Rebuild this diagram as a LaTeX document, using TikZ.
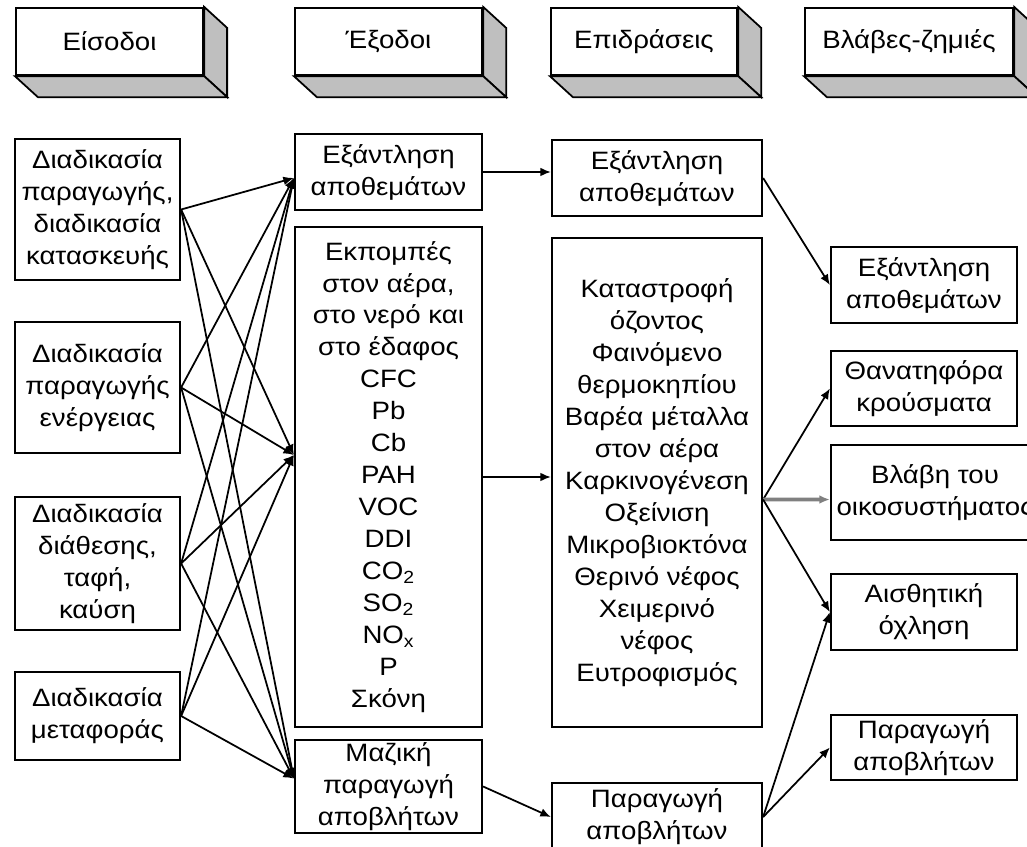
\documentclass[tikz,border=0pt]{standalone}
\usepackage{fontspec}
\setmainfont{Liberation Sans}[FakeStretch=1.1]
\usetikzlibrary{arrows.meta, positioning}

\begin{document}
\begin{tikzpicture}[x=0.02cm, y=-0.02cm, >={Latex[length=6pt,width=5pt]},
    box/.style={rectangle, draw, line width=1.3pt, fill=white, align=center, inner sep=0pt,
        font=\fontsize{14.3}{18.2}\selectfont},
    head/.style={box, minimum height=1.34cm},
    link/.style={->, line width=1pt}]
    \useasboundingbox (0,0) rectangle (1027,847);

    % column headers
    \node[head, minimum width=3.74cm] (h1) at (109.5,41.5) {Είσοδοι};
    \node[head, minimum width=3.74cm] (h2) at (388.5,41.5) {Έξοδοι};
    \node[head, minimum width=3.72cm] (h3) at (644,41.5) {Επιδράσεις};
    \node[head, minimum width=4.16cm] (h4) at (909,41.5) {Βλάβες-ζημιές};
    \foreach \h in {h1,h2,h3,h4} {
        \draw[fill=gray!50, line width=1pt] (\h.north east) -- ([shift={(23,21)}]\h.north east)
            -- ([shift={(23,21)}]\h.south east) -- (\h.south east) -- cycle;
        \draw[fill=gray!50, line width=1pt] (\h.south west) -- (\h.south east)
            -- ([shift={(23,21)}]\h.south east) -- ([shift={(23,21)}]\h.south west) -- cycle;
    }

    % inputs
    \node[box, minimum width=3.3cm, minimum height=2.82cm] (in1) at (97.5,209.5) {Διαδικασία\\παραγωγής,\\διαδικασία\\κατασκευής};
    \node[box, minimum width=3.3cm, minimum height=2.62cm] (in2) at (97.5,387.5) {Διαδικασία\\παραγωγής\\ενέργειας};
    \node[box, minimum width=3.3cm, minimum height=2.66cm] (in3) at (97.5,563.5) {Διαδικασία\\διάθεσης,\\ταφή,\\καύση};
    \node[box, minimum width=3.3cm, minimum height=1.76cm] (in4) at (97.5,716) {Διαδικασία\\μεταφοράς};

    % outputs
    \node[box, minimum width=3.74cm, minimum height=1.52cm] (out1) at (388.5,172) {Εξάντληση\\αποθεμάτων};
    \node[box, minimum width=3.74cm, minimum height=10cm] (out2) at (388.5,477) {Εκπομπές\\στον αέρα,\\στο νερό και\\στο έδαφος\\CFC\\Pb\\Cb\\PAH\\VOC\\DDI\\CO\textsubscript{2}\\SO\textsubscript{2}\\NO\textsubscript{x}\\P\\Σκόνη};
    \node[box, minimum width=3.74cm, minimum height=1.86cm] (out3) at (388.5,786.5) {Μαζική\\παραγωγή\\αποβλήτων};

    % effects
    \node[box, minimum width=4.2cm, minimum height=1.52cm] (eff1) at (657,178) {Εξάντληση\\αποθεμάτων};
    \node[box, minimum width=4.2cm, minimum height=9.78cm] (eff2) at (657,482.5) {Καταστροφή\\όζοντος\\Φαινόμενο\\θερμοκηπίου\\Βαρέα μέταλλα\\στον αέρα\\Καρκινογένεση\\Οξείνιση\\Μικροβιοκτόνα\\Θερινό νέφος\\Χειμερινό\\νέφος\\Ευτροφισμός};
    \node[box, minimum width=4.2cm, minimum height=1.36cm] (eff3) at (657,817) {Παραγωγή\\αποβλήτων};

    % damages
    \node[box, minimum width=3.72cm, minimum height=1.52cm] (dmg1) at (924,285) {Εξάντληση\\αποθεμάτων};
    \node[box, minimum width=3.72cm, minimum height=1.5cm] (dmg2) at (924,388.5) {Θανατηφόρα\\κρούσματα};
    \node[box, minimum width=4.16cm, minimum height=1.9cm] (dmg3) at (935,492.5) {Βλάβη του\\οικοσυστήματος};
    \node[box, minimum width=3.72cm, minimum height=1.52cm] (dmg4) at (924,612) {Αισθητική\\όχληση};
    \node[box, minimum width=3.72cm, minimum height=1.3cm] (dmg5) at (924,747.5) {Παραγωγή\\αποβλήτων};

    % every input feeds every output
    \foreach \s in {in1,in2,in3,in4} {
        \draw[link] (\s.east) -- ([yshift=-3.4pt]out1.west);
        \draw[link] (\s.east) -- ([yshift=12.5pt]out2.west);
        \draw[link] (\s.east) -- ([yshift=4.5pt]out3.west);
    }

    \draw[link] (out1.east) -- (out1.east -| eff1.west);
    \draw[link] (out2.east) -- (out2.east -| eff2.west);
    \draw[link] (out3.east) -- (eff3.west);

    \draw[link] (eff1.east) -- (dmg1.west);
    \draw[link] ([yshift=-9.7pt]eff2.east) -- (dmg2.west);
    \draw[->, line width=2.2pt, gray] ([yshift=-9.7pt]eff2.east) -- ([yshift=-4pt]dmg3.west);
    \draw[link] ([yshift=-9.7pt]eff2.east) -- (dmg4.west);
    \draw[link] (eff3.east) -- (dmg4.west);
    \draw[link] (eff3.east) -- (dmg5.west);
\end{tikzpicture}
\end{document}
